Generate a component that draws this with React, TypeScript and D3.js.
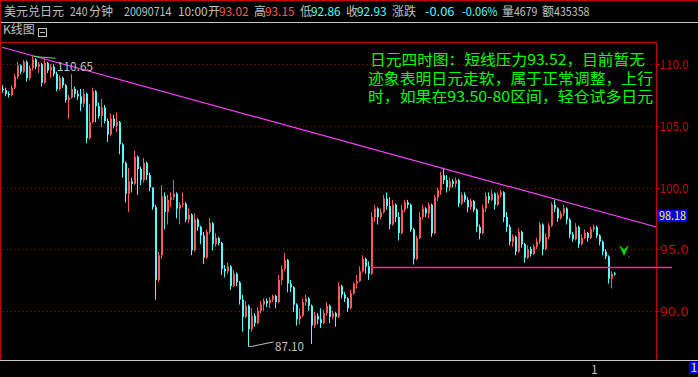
import React from 'react';
import * as d3 from 'd3';

// ---- data: USD/JPY 240-minute candles ----
const opens = [
  108.0,107.9,107.6,107.5,108.1,109.0,109.9,109.4,110.2,108.9,
  109.7,110.4,109.8,110.0,108.5,110.1,109.5,109.8,109.2,108.0,
  108.9,108.3,107.1,107.3,108.0,107.6,107.4,106.8,107.6,104.0,
  105.3,107.8,106.6,105.8,106.5,105.4,104.3,105.6,105.0,105.3,
  103.5,102.0,99.5,100.5,100.3,102.5,101.5,100.6,102.0,101.0,
  100.0,98.4,92.5,94.5,99.3,98.0,99.0,99.2,99.5,98.3,
  98.6,98.7,97.4,97.8,94.9,97.4,96.8,96.1,94.3,96.4,
  97.1,95.4,95.9,95.5,93.4,93.2,93.6,92.0,93.0,92.3,
  90.9,89.5,90.4,88.5,89.6,89.0,90.0,90.5,90.8,90.6,
  90.9,91.2,90.7,92.5,93.4,94.1,92.2,91.9,90.5,89.3,
  89.6,90.7,91.0,90.4,88.8,89.6,89.3,89.0,89.8,90.4,
  89.5,89.8,89.5,92.0,91.3,91.0,90.2,91.4,92.2,92.4,
  93.2,94.2,93.6,93.0,97.6,98.3,97.6,98.0,99.1,98.5,
  97.0,98.6,97.6,96.3,98.2,98.8,98.6,96.6,94.2,95.9,
  97.6,98.3,97.9,98.6,96.3,99.2,99.8,101.0,100.6,100.0,
  100.5,100.3,100.6,98.7,99.4,99.0,98.4,98.9,98.2,96.8,
  96.3,98.3,99.3,99.0,99.5,98.6,99.4,99.6,97.6,96.8,
  95.6,96.0,94.8,96.4,95.4,94.3,95.0,94.6,95.2,95.6,
  97.0,95.0,96.0,96.9,98.6,98.3,97.5,97.9,98.3,97.4,
  96.2,95.8,96.8,95.4,95.9,96.3,95.9,96.6,96.8,96.1,
  95.6,94.8,94.4,92.6,93.02,
];
const highs = [
  108.3,108.1,107.8,108.3,109.2,110.2,110.0,110.35,110.3,109.9,
  110.65,110.5,110.2,110.1,110.4,110.2,110.0,110.0,109.4,109.1,
  109.0,108.4,107.5,109.2,108.2,107.9,108.0,108.0,107.7,106.8,
  108.1,107.9,106.9,107.2,106.7,105.6,106.0,105.9,106.1,105.4,
  103.6,102.1,101.6,100.8,103.0,102.6,101.7,102.4,102.1,101.2,
  100.0,98.6,94.8,100.2,99.6,99.4,99.6,100.6,99.6,98.8,
  99.6,98.8,98.3,97.9,97.9,97.5,96.9,96.4,96.6,97.5,
  97.2,96.3,96.0,95.6,93.7,93.9,93.7,93.3,93.1,92.4,
  91.3,90.8,90.5,90.2,89.8,90.3,90.8,91.0,91.0,91.1,
  91.3,91.3,92.9,93.7,94.7,94.2,92.5,92.0,90.6,90.2,
  91.0,91.3,91.1,90.5,89.9,89.8,90.2,90.1,90.7,90.5,
  90.0,89.9,92.3,92.1,91.5,91.1,91.7,92.3,92.9,93.6,
  94.5,94.3,94.0,98.0,98.6,98.4,98.3,99.4,99.6,99.2,
  99.0,98.7,98.0,98.6,99.0,99.0,98.7,96.7,96.1,98.0,
  98.6,98.4,98.8,98.7,99.4,100.0,101.3,101.6,101.0,100.8,
  100.7,100.8,100.7,99.6,99.6,99.2,99.1,99.0,98.3,97.0,
  98.6,99.6,99.6,99.8,99.6,99.6,99.8,99.7,98.0,97.0,
  96.2,96.1,96.7,96.5,95.5,95.3,95.2,95.4,95.9,97.2,
  97.1,96.3,97.1,98.8,99.0,98.4,98.1,98.6,98.4,97.5,
  96.4,97.1,96.9,96.2,96.6,96.4,96.8,97.0,96.9,96.2,
  95.7,95.0,94.5,93.2,93.15,
];
const lows = [
  107.7,107.4,107.3,107.4,108.0,108.8,109.2,109.3,108.6,108.7,
  109.5,109.6,109.3,108.2,108.4,109.3,108.9,109.0,107.8,107.9,
  108.1,106.9,105.6,107.2,107.3,107.1,106.2,106.5,103.6,103.9,
  105.2,105.3,105.6,104.9,105.2,103.7,104.2,104.8,104.5,102.7,
  100.8,98.8,98.0,99.6,100.2,99.4,100.2,100.4,100.6,99.7,
  98.2,90.9,92.3,94.2,96.6,97.0,98.4,99.0,97.5,97.0,
  98.4,97.2,97.1,94.5,94.8,96.5,95.4,93.8,94.2,96.2,
  94.9,95.2,95.3,92.9,92.7,93.0,91.7,91.9,92.0,90.5,
  88.3,89.4,87.1,88.3,88.7,88.9,89.8,90.0,90.3,90.2,
  90.7,90.2,90.6,92.1,93.2,91.5,91.5,89.9,88.8,88.9,
  89.5,90.4,90.0,87.3,88.6,88.9,88.6,88.9,89.6,89.0,
  89.3,88.7,89.4,91.0,90.7,89.9,90.1,91.3,91.8,92.3,
  93.1,93.0,92.5,92.9,97.2,97.0,97.4,97.9,98.2,96.6,
  96.9,97.2,95.7,96.2,98.0,98.3,96.4,93.75,94.1,95.8,
  97.4,97.6,97.5,96.0,96.2,98.9,99.4,100.3,99.6,99.7,
  100.0,100.0,98.4,98.6,98.8,98.0,98.2,98.0,96.4,95.8,
  96.2,98.0,98.7,98.9,98.2,98.5,99.2,97.2,96.4,95.3,
  95.2,94.5,94.7,95.1,93.9,94.2,94.4,94.5,95.0,95.4,
  94.5,94.9,95.8,96.8,98.0,97.2,97.4,97.7,97.0,95.9,
  95.6,95.7,95.1,95.3,95.8,95.6,95.8,96.4,95.9,95.3,
  94.5,94.2,92.2,91.8,92.86,
];
const closes = [
  107.9,107.6,107.5,108.1,109.0,109.9,109.4,110.2,108.9,109.7,
  110.4,109.8,110.0,108.5,110.1,109.5,109.8,109.2,108.0,108.9,
  108.3,107.1,107.3,108.0,107.6,107.4,106.8,107.6,104.0,105.3,
  107.8,106.6,105.8,106.5,105.4,104.3,105.6,105.0,105.3,103.5,
  102.0,99.5,100.5,100.3,102.5,101.5,100.6,102.0,101.0,100.0,
  98.4,92.5,94.5,99.3,98.0,99.0,99.2,99.5,98.3,98.6,
  98.7,97.4,97.8,94.9,97.4,96.8,96.1,94.3,96.4,97.1,
  95.4,95.9,95.5,93.4,93.2,93.6,92.0,93.0,92.3,90.9,
  89.5,90.4,88.5,89.6,89.0,90.0,90.5,90.8,90.6,90.9,
  91.2,90.7,92.5,93.4,94.1,92.2,91.9,90.5,89.3,89.6,
  90.7,91.0,90.4,88.8,89.6,89.3,89.0,89.8,90.4,89.5,
  89.8,89.5,92.0,91.3,91.0,90.2,91.4,92.2,92.4,93.2,
  94.2,93.6,93.0,97.6,98.3,97.6,98.0,99.1,98.5,97.0,
  98.6,97.6,96.3,98.2,98.8,98.6,96.6,94.2,95.9,97.6,
  98.3,97.9,98.6,96.3,99.2,99.8,101.0,100.6,100.0,100.5,
  100.3,100.6,98.7,99.4,99.0,98.4,98.9,98.2,96.8,96.3,
  98.3,99.3,99.0,99.5,98.6,99.4,99.6,97.6,96.8,95.6,
  96.0,94.8,96.4,95.4,94.3,95.0,94.6,95.2,95.6,97.0,
  95.0,96.0,96.9,98.6,98.3,97.5,97.9,98.3,97.4,96.2,
  95.8,96.8,95.4,95.9,96.3,95.9,96.6,96.8,96.1,95.6,
  94.8,94.4,92.6,93.0,92.93,
];

const yTicks = [90, 95, 100, 105, 110];
const trendIdx = [10, 147];
const trendVal = [110.68, 101.52];
const supportLevel = 93.55;
const supportStartIdx = 123;
const priceTag = 98.18;
const highIdx = 10;
const highVal = 110.65;
const lowIdx = 82;
const lowVal = 87.1;

const noteLines = [
  '日元四时图：短线压力93.52，目前暂无',
  '迹象表明日元走软，属于正常调整，上行',
  '时，如果在93.50-80区间，轻仓试多日元',
];

const RED = '#ff5656';
const CYAN = '#54fcfc';
const GRAY = '#c0c0c0';
const FRAME = '#c80000';
const CJK = '"Noto Sans CJK SC", "Noto Sans", sans-serif';

const header: { t: string; x: number; c: string; num?: boolean }[] = [
  { t: '美元兑日元', x: 4, c: GRAY },
  { t: '240', x: 70, c: GRAY, num: true },
  { t: '分钟', x: 89, c: GRAY },
  { t: '20090714', x: 124, c: GRAY, num: true },
  { t: '10:00', x: 178, c: GRAY, num: true },
  { t: '开', x: 208, c: GRAY },
  { t: '93.02', x: 219, c: RED, num: true },
  { t: '高', x: 254, c: GRAY },
  { t: '93.15', x: 265, c: RED, num: true },
  { t: '低', x: 300, c: GRAY },
  { t: '92.86', x: 311, c: CYAN, num: true },
  { t: '收', x: 346, c: GRAY },
  { t: '92.93', x: 357, c: CYAN, num: true },
  { t: '涨跌', x: 392, c: GRAY },
  { t: '-0.06', x: 425, c: CYAN, num: true },
  { t: '-0.06%', x: 462, c: CYAN, num: true },
  { t: '量', x: 502, c: GRAY },
  { t: '4679', x: 514, c: GRAY, num: true },
  { t: '额', x: 542, c: GRAY },
  { t: '435358', x: 554, c: GRAY, num: true },
];

export default function App() {
  const W = 698;
  const H = 377;
  const n = closes.length;
  const x = d3.scaleBand<number>().domain(d3.range(n)).range([2, 2 + 3 * n]);
  const y = d3.scaleLinear().domain([86.0, 111.81]).range([360, 42]);
  const cx = (i: number) => (x(i) as number) + 1.5;

  // trend line through two highs, extended across the plot
  const tx0 = cx(trendIdx[0]);
  const ty0 = y(trendVal[0]);
  const tx1 = cx(trendIdx[1]);
  const ty1 = y(trendVal[1]);
  const slope = (ty1 - ty0) / (tx1 - tx0);
  const tAt = (px: number) => ty0 + slope * (px - tx0);

  const supY = Math.round(y(supportLevel)) + 0.5;
  const axisX = 656.5;

  const hx = cx(highIdx);
  const hy = y(highVal);
  const lx = cx(lowIdx) - 1;
  const ly = y(lowVal);

  return (
    <svg
      width={W}
      height={H}
      style={{ position: 'fixed', left: 0, top: 0, display: 'block', background: '#000' }}
      fontFamily={CJK}
    >
      <rect x={0} y={0} width={W} height={H} fill="#000" />
      {/* frame lines */}
      <line x1={0} x2={W} y1={0.5} y2={0.5} stroke={FRAME} />
      <line x1={0} x2={W} y1={22.5} y2={22.5} stroke="#c8c8c8" />
      <line x1={0.5} x2={0.5} y1={0} y2={360} stroke={FRAME} />
      <line x1={1} x2={axisX} y1={42.5} y2={42.5} stroke={FRAME} />
      <line x1={axisX} x2={axisX} y1={42} y2={360} stroke={FRAME} />
      <line x1={0} x2={W} y1={360.5} y2={360.5} stroke="#c8c8c8" />

      {/* header */}
      {header.map((h, i) => (
        <text
          key={i}
          x={h.x}
          y={15.5}
          fill={h.c}
          fontSize={12}
          textLength={h.num ? h.t.length * 6 - 0.5 : undefined}
          lengthAdjust="spacingAndGlyphs"
        >
          {h.t}
        </text>
      ))}
      <text x={3} y={34} fill={GRAY} fontSize={12}>K线图</text>
      <rect x={38.5} y={28.5} width={8} height={8} fill="none" stroke={GRAY} />
      <line x1={40} x2={45} y1={32.5} y2={32.5} stroke={GRAY} />

      {/* grid + y axis */}
      {yTicks.map((t) => {
        const yy = Math.round(y(t)) + 0.5;
        return (
          <g key={t}>
            <line x1={3} x2={axisX} y1={yy} y2={yy} stroke="#b80000" strokeDasharray="1 3" />
            <line x1={axisX} x2={axisX + 3} y1={yy} y2={yy} stroke={FRAME} />
            <text
              x={659.5}
              y={yy + 4}
              fill={FRAME}
              fontSize={12}
              textLength={29}
              lengthAdjust="spacingAndGlyphs"
            >
              {t.toFixed(1)}
            </text>
          </g>
        );
      })}

      {/* candles */}
      {closes.map((c, i) => {
        const o = opens[i];
        const col = c > o ? RED : CYAN;
        const bx = x(i) as number;
        const top = y(Math.max(o, c));
        const bot = y(Math.min(o, c));
        return (
          <g key={i}>
            <line x1={bx + 0.5} x2={bx + 0.5} y1={y(highs[i])} y2={y(lows[i])} stroke={col} />
            <rect x={bx} y={top} width={2} height={Math.max(1, bot - top)} fill={col} />
          </g>
        );
      })}

      {/* trend line */}
      <line x1={2} y1={tAt(2)} x2={axisX} y2={tAt(axisX)} stroke="#ff40ff" strokeWidth={1.2} />
      {/* support line */}
      <line x1={cx(supportStartIdx) - 1} x2={672} y1={supY} y2={supY} stroke="#ff2a8a" strokeWidth={1.3} />

      {/* high / low marks */}
      <polyline
        points={`${hx},${hy} ${hx + 4},${hy + 0.5} ${hx + 22},${hy + 2}`}
        fill="none"
        stroke="#70e070"
      />
      <text x={57} y={70.7} fill={GRAY} fontSize={12} textLength={36} lengthAdjust="spacingAndGlyphs">
        {highVal.toFixed(2)}
      </text>
      <polyline
        points={`${lx},${ly} ${lx + 3},${ly} ${lx + 25},${ly - 4.5}`}
        fill="none"
        stroke={GRAY}
      />
      <text x={275} y={350.7} fill={GRAY} fontSize={12} textLength={29} lengthAdjust="spacingAndGlyphs">
        {lowVal.toFixed(2)}
      </text>

      {/* green arrow */}
      <path d="M619,245 L624,249.5 L629,245 L624,256 Z" fill="#00d800" />
      <rect x={628} y={256} width={1.5} height={1.5} fill="#306030" />

      {/* price tag */}
      <rect x={657} y={y(priceTag)} width={30} height={12} fill="#0000f0" />
      <text
        x={659}
        y={y(priceTag) + 10}
        fill="#ffff00"
        fontSize={12}
        textLength={27}
        lengthAdjust="spacingAndGlyphs"
      >
        {priceTag.toFixed(2)}
      </text>

      {/* note */}
      {noteLines.map((t, i) => (
        <text
          key={i}
          x={i === 0 ? 370 : 368}
          y={65 + i * 18.6}
          fill="#00ff00"
          fontSize={15}
          textLength={i === 0 ? 275 : 285}
          lengthAdjust="spacingAndGlyphs"
        >
          {t}
        </text>
      ))}

      {/* bottom axis */}
      <text x={591} y={374} fill={GRAY} fontSize={12}>1</text>
      <rect x={689} y={362} width={9} height={12} fill="#0000f0" />
      <text x={690.5} y={372} fill="#ffff00" fontSize={12}>1</text>
    </svg>
  );
}
